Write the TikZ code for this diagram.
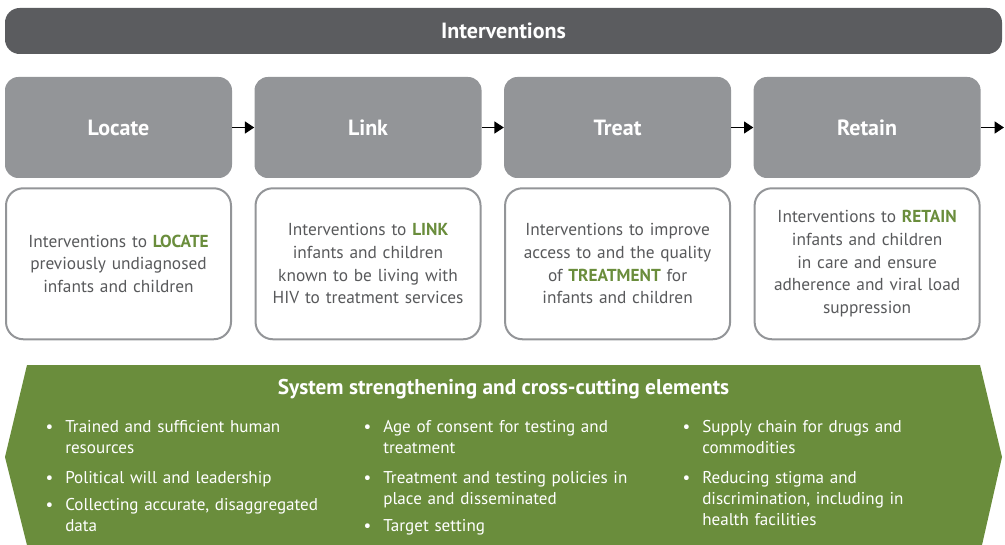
\documentclass[tikz,border=0pt]{standalone}
\usepackage{fontspec}
\setmainfont{PT Sans}
\usetikzlibrary{positioning,arrows.meta}
\definecolor{darkgrey}{HTML}{5B5C5F}
\definecolor{midgrey}{HTML}{939598}
\definecolor{textgrey}{HTML}{58595B}
\definecolor{leaf}{HTML}{6A8D3C}
\newcommand{\hl}[1]{\textcolor{leaf}{\textbf{#1}}}
\newcommand{\dotitem}{\strut\llap{\textbullet\hspace{9pt}}}

\begin{document}
\begin{tikzpicture}[x=0.75pt,y=-0.75pt,
    every node/.style={font=\fontsize{13}{17}\selectfont},
    banner/.style={fill=darkgrey, rounded corners=11pt, minimum width=747.75pt,
      minimum height=34.5pt, text=white, font=\fontsize{16.5}{19}\selectfont\bfseries},
    stage/.style={fill=midgrey, rounded corners=10pt, minimum width=170.25pt,
      minimum height=75.75pt, text=white, font=\fontsize{16.5}{19}\selectfont\bfseries},
    desc/.style={draw=midgrey, line width=1.5pt, rounded corners=13pt,
      minimum width=168.75pt, minimum height=113.25pt, text width=160pt,
      align=center, text=textgrey},
    flow/.style={-{Triangle[length=7pt,width=9pt]}, line width=0.9pt},
    point/.style={text width=230pt, align=left, inner sep=0pt, text=white,
      font=\fontsize{12.8}{15.75}\selectfont},
  ]
  \useasboundingbox (0,0) rectangle (1005,545);

  \node[banner] (head) at (503.5,31) {Interventions};

  % the four steps
  \node[stage] (locate) at (118.5,127.5) {Locate};
  \node[stage, right=16.5pt of locate] (link) {Link};
  \node[stage, right=16.5pt of link] (treat) {Treat};
  \node[stage, right=16.5pt of treat] (retain) {Retain};
  \coordinate (exit) at (1004,127.5);

  \draw[flow] (locate) -- (link);
  \draw[flow] (link) -- (treat);
  \draw[flow] (treat) -- (retain);
  \draw[flow] (retain) -- (exit);

  \node[desc, below=6.75pt of locate] (locatetxt)
    {Interventions to \hl{LOCATE}\\previously undiagnosed\\infants and children};
  \node[desc, below=6.75pt of link] (linktxt)
    {Interventions to \hl{LINK}\\infants and children\\known to be living with\\HIV to treatment services};
  \node[desc, below=6.75pt of treat] (treattxt)
    {Interventions to improve\\access to and the quality\\of \hl{TREATMENT} for\\infants and children};
  \node[desc, below=6.75pt of retain] (retaintxt)
    {Interventions to \hl{RETAIN}\\infants and children\\in care and ensure\\adherence and viral load\\suppression};

  % green band
  \fill[leaf] (27,365) -- (980,365) -- (1002,457) -- (982,545) -- (27,545)
    -- (5,457) -- cycle;
  \node[text=white, font=\fontsize{16}{19}\selectfont\bfseries] (system) at (503.5,389.5)
    {System strengthening and cross-cutting elements};

  \node[point, anchor=north west] (staff) at (65,418)
    {\dotitem Trained and sufficient human\\resources\strut};
  \node[point, below=6pt of staff] (will) {\dotitem Political will and leadership\strut};
  \node[point, below=4pt of will] (data)
    {\dotitem Collecting accurate, disaggregated\\data\strut};

  \node[point, anchor=north west] (consent) at (383,418)
    {\dotitem Age of consent for testing and\\treatment\strut};
  \node[point, below=6pt of consent] (policy)
    {\dotitem Treatment and testing policies in\\place and disseminated\strut};
  \node[point, below=4pt of policy] (target) {\dotitem Target setting\strut};

  \node[point, anchor=north west] (supply) at (702,418)
    {\dotitem Supply chain for drugs and\\commodities\strut};
  \node[point, below=6pt of supply] (stigma)
    {\dotitem Reducing stigma and\\discrimination, including in\\health facilities\strut};
\end{tikzpicture}
\end{document}
